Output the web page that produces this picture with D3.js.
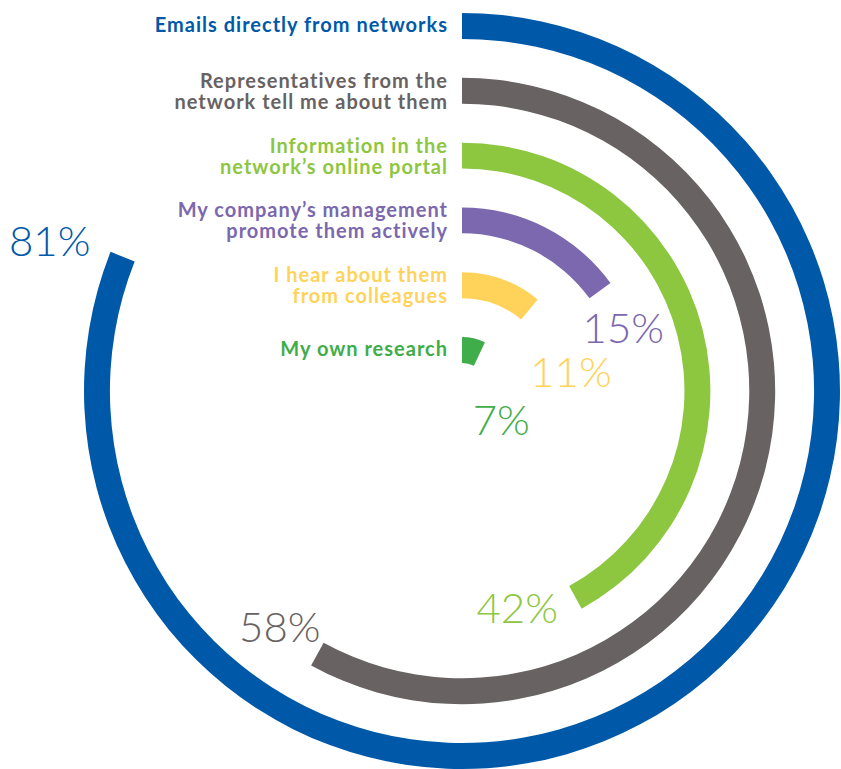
<!DOCTYPE html>
<html>
<head>
<meta charset="utf-8">
<script src="https://cdn.jsdelivr.net/npm/d3@7"></script>
<style>
  html, body { margin: 0; padding: 0; background: #ffffff; }
  svg { display: block; }
  .cat { font-family: Lato, "Open Sans", sans-serif; font-weight: 700; font-size: 20px; letter-spacing: 1px; }
  .val { font-family: Lato, Roboto, sans-serif; font-weight: 300; font-size: 42px; }
</style>
</head>
<body>
<svg id="chart" width="841" height="769"></svg>
<script>
// Sources of information about networks, share of respondents (%)
const categories = [
  ["Emails directly from networks"],
  ["Representatives from the", "network tell me about them"],
  ["Information in the", "network\u2019s online portal"],
  ["My company\u2019s management", "promote them actively"],
  ["I hear about them", "from colleagues"],
  ["My own research"]
];
const values = [81, 58, 42, 15, 11, 7];
const colors = ["#0059a8", "#686262", "#8dc63f", "#7b68ae", "#ffd35a", "#3fad49"];

// Placement of the percentage labels: extra angle (deg) past the arc end, radial shift (px)
const valueLabelPlacement = [[-1.5, 74], [9, -3], [14.5, -12], [14.3, 3], [40, 5], [100, 7]];

const width = 841, height = 769;
const cx = 462, cy = 391;

const svg = d3.select("#chart");
const g = svg.append("g").attr("transform", `translate(${cx},${cy})`);

const ids = d3.range(values.length);

// Innermost ring is the last category
const radius = d3.scaleBand()
  .domain(ids.slice().reverse())
  .range([28, 378])
  .paddingInner(0.6)
  .paddingOuter(0);

const angle = d3.scaleLinear().domain([0, 100]).range([0, 2 * Math.PI]);

const arc = d3.arc()
  .innerRadius(i => radius(i))
  .outerRadius(i => radius(i) + radius.bandwidth())
  .startAngle(0)
  .endAngle(i => angle(values[i]));

g.selectAll("path.ring")
  .data(ids)
  .join("path")
  .attr("class", "ring")
  .attr("d", arc)
  .attr("fill", i => colors[i]);

// Category labels, right-aligned just left of each ring's start
const lineH = 21;
const catLabels = g.selectAll("text.cat")
  .data(ids)
  .join("text")
  .attr("class", "cat")
  .attr("text-anchor", "end")
  .attr("fill", i => colors[i])
  .attr("transform", i => {
    const rc = radius(i) + radius.bandwidth() / 2;
    return `translate(${-14},${-rc})`;
  });

catLabels.each(function(i) {
  const lines = categories[i];
  const first = 6 - (lines.length - 1) * lineH / 2 + (lines.length > 1 ? 1.5 : 0);
  d3.select(this).selectAll("tspan")
    .data(lines)
    .join("tspan")
    .attr("x", 0)
    .attr("y", (d, k) => first + k * lineH)
    .text(d => d);
});

// Percentage labels near each arc end
g.selectAll("text.val")
  .data(ids)
  .join("text")
  .attr("class", "val")
  .attr("text-anchor", "middle")
  .attr("dominant-baseline", "central")
  .attr("fill", i => colors[i])
  .attr("transform", i => {
    const [dA, dR] = valueLabelPlacement[i];
    const a = angle(values[i]) + dA * Math.PI / 180;
    const r = radius(i) + radius.bandwidth() / 2 + dR;
    return `translate(${r * Math.sin(a)},${-r * Math.cos(a)})`;
  })
  .text(i => values[i] + "%");
</script>
</body>
</html>
